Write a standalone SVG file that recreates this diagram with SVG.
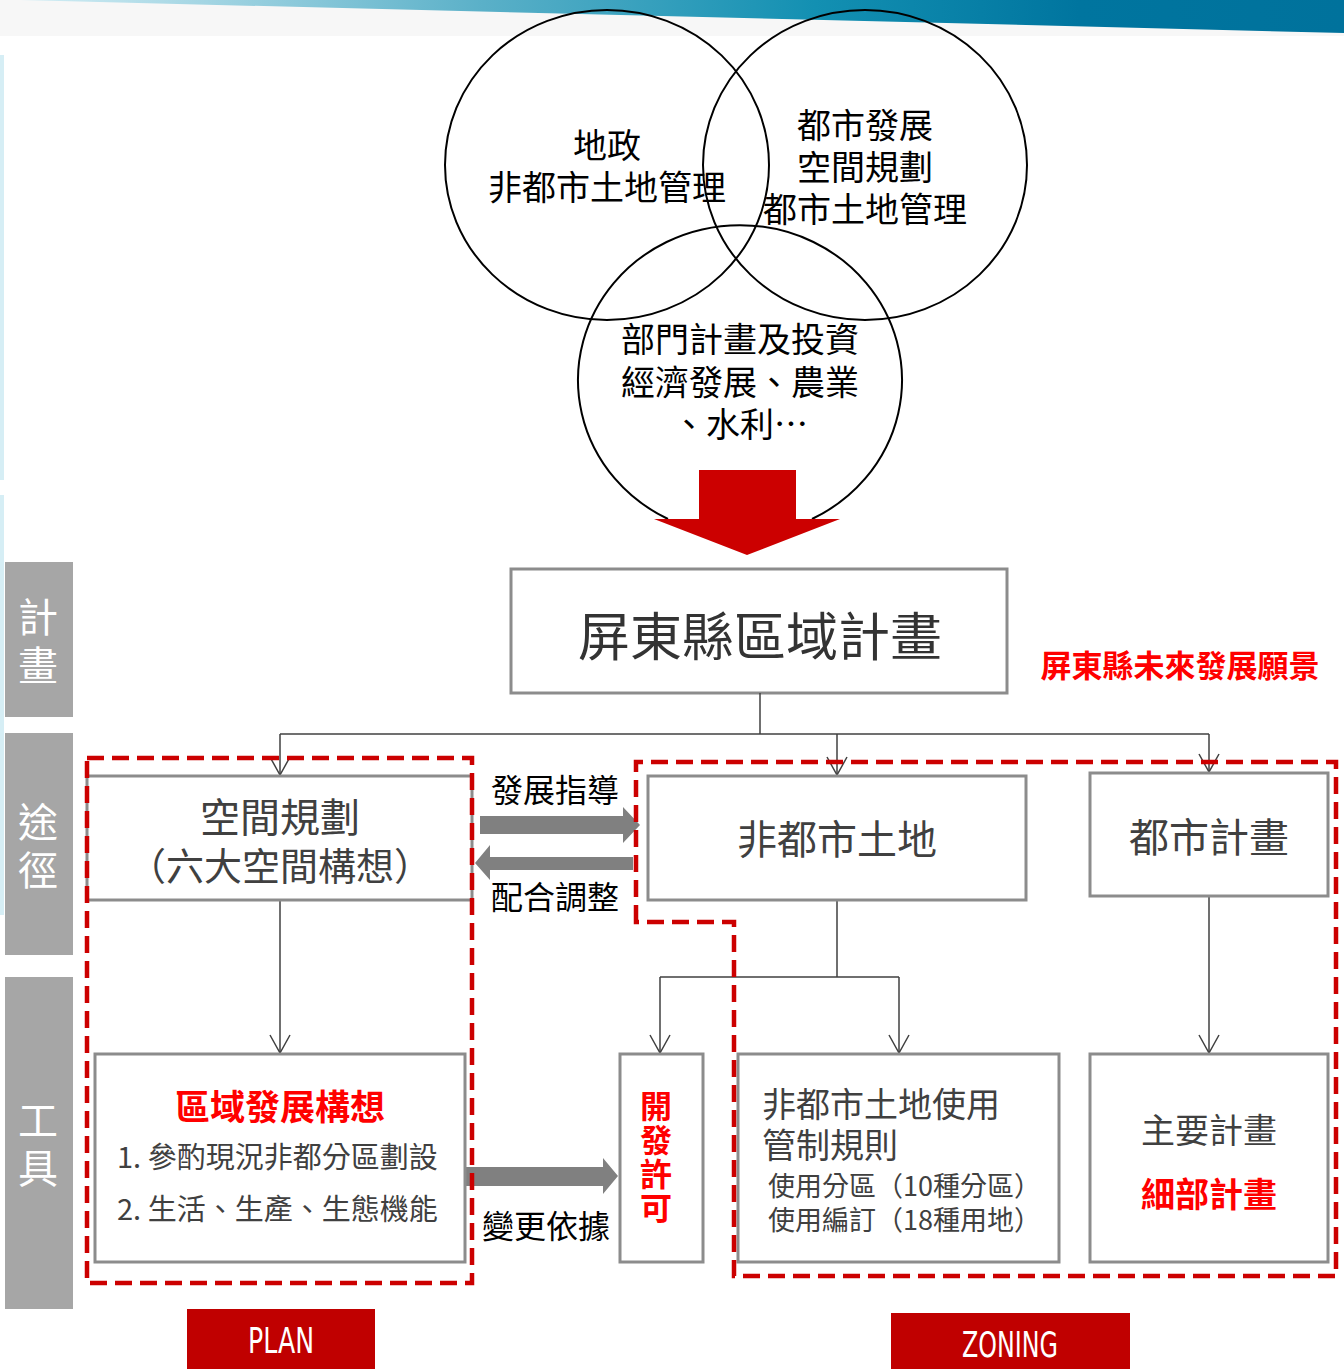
<svg xmlns="http://www.w3.org/2000/svg" width="1344" height="1369" viewBox="0 0 1344 1369">
<defs>
<linearGradient id="band" x1="0" y1="0" x2="1" y2="0">
<stop offset="0" stop-color="#d4eef5"/>
<stop offset="0.35" stop-color="#5ab0c8"/>
<stop offset="0.6" stop-color="#1390b2"/>
<stop offset="0.8" stop-color="#00759f"/>
<stop offset="1" stop-color="#00729c"/>
</linearGradient>
<marker id="open" viewBox="0 0 22 22" refX="20" refY="11" markerWidth="22" markerHeight="22" markerUnits="userSpaceOnUse" orient="auto">
<path d="M2,1 L20,11 L2,21" fill="none" stroke="#404040" stroke-width="1.5"/>
</marker>
</defs>
<style>
.cjk{font-family:"Noto Sans CJK TC","Noto Sans CJK SC",sans-serif;}
.box{fill:#fff;stroke:#8c8c8c;stroke-width:3;}
.circ{fill:none;stroke:#000;stroke-width:2;}
.ct{font-size:34px;fill:#000;text-anchor:middle;}
.bt{fill:#404040;text-anchor:middle;}
.side{fill:#a6a6a6;}
.st{font-size:40px;fill:#fff;letter-spacing:8px;}
.red{fill:#ff0000;font-weight:bold;}
.dash{fill:none;stroke:#cc0000;stroke-width:4.5;stroke-dasharray:17 8;}
.conn{fill:none;stroke:#404040;stroke-width:1.5;}
.garrow{fill:#808080;}
.lbl{font-size:32px;fill:#000;text-anchor:middle;}
.tag{fill:#c00000;}
.tagt{font-family:"DejaVu Sans Condensed","Liberation Sans",sans-serif;font-size:36px;fill:#fff;text-anchor:middle;}
</style>
<rect width="1344" height="1369" fill="#fff"/>
<g id="banner">
<rect x="0" y="0" width="1344" height="36" fill="#f7f7f7"/>
<polygon points="20,0 1344,0 1344,33" fill="url(#band)"/>
<rect x="0" y="55" width="4" height="425" fill="#d6eef5"/>
<rect x="0" y="495" width="4" height="420" fill="#d6eef5"/>
</g>
<g id="side-plan"><rect class="side" x="5" y="562" width="68" height="155"/><text class="cjk st" x="38" y="597" writing-mode="tb">計畫</text></g>
<g id="side-path"><rect class="side" x="5" y="733" width="68" height="222"/><text class="cjk st" x="38" y="802" writing-mode="tb">途徑</text></g>
<g id="side-tool"><rect class="side" x="5" y="977" width="68" height="332"/><text class="cjk st" x="38" y="1100" writing-mode="tb">工具</text></g>
<g id="circle-land">
<ellipse class="circ" cx="607" cy="165" rx="162" ry="155"/>
<text class="cjk ct" x="607" y="158">地政</text>
<text class="cjk ct" x="607" y="200">非都市土地管理</text>
</g>
<g id="circle-urban">
<ellipse class="circ" cx="865" cy="165" rx="162" ry="155"/>
<text class="cjk ct" x="865" y="138">都市發展</text>
<text class="cjk ct" x="865" y="180">空間規劃</text>
<text class="cjk ct" x="865" y="222">都市土地管理</text>
</g>
<g id="circle-sector">
<path class="circ" d="M668,519 A162,155 0 1 1 812,519"/>
<text class="cjk ct" x="740" y="352">部門計畫及投資</text>
<text class="cjk ct" x="740" y="395">經濟發展、農業</text>
<text class="cjk ct" x="740" y="437">、水利…</text>
</g>
<g id="big-arrow"><polygon points="699,470 796,470 796,519 840,519 747,555 654,519 699,519" fill="#cc0000"/></g>
<g id="regional-plan">
<rect class="box" x="511" y="569" width="496" height="124"/>
<text class="cjk" x="760" y="656" font-size="52" fill="#333" text-anchor="middle">屏東縣區域計畫</text>
</g>
<g id="vision"><text class="cjk red" x="1180" y="677" font-size="31" text-anchor="middle">屏東縣未來發展願景</text></g>
<g id="connectors">
<path class="conn" d="M760,693 V734"/>
<path class="conn" d="M280,734 H1209"/>
<path class="conn" d="M280,734 V775" marker-end="url(#open)"/>
<path class="conn" d="M837,734 V775" marker-end="url(#open)"/>
<path class="conn" d="M1209,734 V772" marker-end="url(#open)"/>
<path class="conn" d="M280,900 V1053" marker-end="url(#open)"/>
<path class="conn" d="M837,900 V977 M660,977 H899"/>
<path class="conn" d="M660,977 V1053" marker-end="url(#open)"/>
<path class="conn" d="M899,977 V1053" marker-end="url(#open)"/>
<path class="conn" d="M1209,896 V1053" marker-end="url(#open)"/>
<polygon class="garrow" points="480,816 623,816 623,807 640,825 623,843 623,834 480,834"/>
<polygon class="garrow" points="633,857 490,857 490,845 475,863 490,880 490,870 633,870"/>
<polygon class="garrow" points="460,1167 603,1167 603,1158 618,1176 603,1194 603,1186 460,1186"/>
<text class="cjk lbl" x="555" y="802">發展指導</text>
<text class="cjk lbl" x="555" y="909">配合調整</text>
<text class="cjk lbl" x="546" y="1238">變更依據</text>
</g>
<g id="spatial-plan">
<rect class="box" x="87" y="776" width="385" height="124"/>
<text class="cjk bt" x="280" y="832" font-size="40">空間規劃</text>
<text class="cjk bt" x="280" y="880" font-size="38">（六大空間構想）</text>
</g>
<g id="non-urban">
<rect class="box" x="648" y="776" width="378" height="124"/>
<text class="cjk bt" x="837" y="854" font-size="40">非都市土地</text>
</g>
<g id="urban-plan">
<rect class="box" x="1090" y="773" width="238" height="123"/>
<text class="cjk bt" x="1209" y="852" font-size="40">都市計畫</text>
</g>
<g id="regional-concept">
<rect class="box" x="95" y="1054" width="370" height="208"/>
<text class="cjk red" x="280" y="1120" font-size="35" text-anchor="middle">區域發展構想</text>
<text class="cjk" x="117" y="1168" font-size="29" fill="#404040">1. 參酌現況非都分區劃設</text>
<text class="cjk" x="117" y="1220" font-size="29" fill="#404040">2. 生活、生產、生態機能</text>
</g>
<g id="dev-permit">
<rect class="box" x="620" y="1054" width="83" height="208"/>
<text class="cjk red" x="656" y="1090" font-size="32" writing-mode="tb" letter-spacing="2">開發許可</text>
</g>
<g id="land-rules">
<rect class="box" x="738" y="1054" width="321" height="208"/>
<text class="cjk" x="762" y="1117" font-size="34" fill="#404040">非都市土地使用</text>
<text class="cjk" x="762" y="1158" font-size="34" fill="#404040">管制規則</text>
<text class="cjk" x="768" y="1196" font-size="27" fill="#404040">使用分區（10種分區）</text>
<text class="cjk" x="768" y="1230" font-size="27" fill="#404040">使用編訂（18種用地）</text>
</g>
<g id="urban-detail">
<rect class="box" x="1090" y="1054" width="238" height="208"/>
<text class="cjk bt" x="1209" y="1143" font-size="34">主要計畫</text>
<text class="cjk red" x="1209" y="1207" font-size="34" text-anchor="middle">細部計畫</text>
</g>
<g id="zones">
<rect class="dash" x="87" y="758" width="385" height="525"/>
<path class="dash" d="M636,922 V762 H1336 V1276 H734 V922 Z"/>
</g>
<g id="plan-tag"><rect class="tag" x="187" y="1309" width="188" height="60"/><text class="tagt" x="281" y="1353" textLength="66" lengthAdjust="spacingAndGlyphs">PLAN</text></g>
<g id="zoning-tag"><rect class="tag" x="891" y="1313" width="239" height="56"/><text class="tagt" x="1010" y="1357" textLength="96" lengthAdjust="spacingAndGlyphs">ZONING</text></g>
</svg>
